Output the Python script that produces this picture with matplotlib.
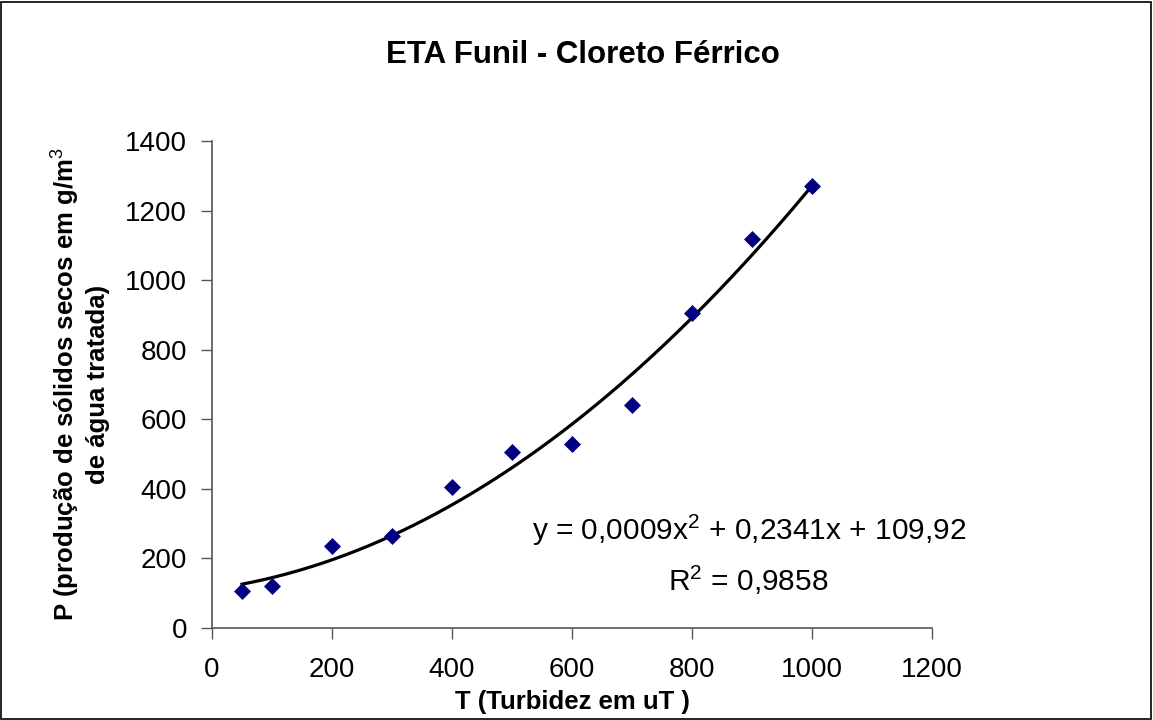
import numpy as np
import matplotlib
matplotlib.use("Agg")
import matplotlib.pyplot as plt
from matplotlib.patches import Rectangle

turbidez = [50, 100, 200, 300, 400, 500, 600, 700, 800, 900, 1000]
producao = [105, 120, 237, 265, 405, 505, 528, 640, 905, 1118, 1270]
x_ticks = [0, 200, 400, 600, 800, 1000, 1200]
y_ticks = [0, 200, 400, 600, 800, 1000, 1200, 1400]

title = "ETA Funil - Cloreto Férrico"
xlabel = "T (Turbidez em uT )"
ylabel = "P (produção de sólidos secos em g/m$^3$\nde água tratada)"
eq_text = "y = 0,0009x$^2$ + 0,2341x + 109,92"
r2_text = "R$^2$ = 0,9858"

plt.rcParams['font.family'] = ['Liberation Sans', 'DejaVu Sans']
plt.rcParams['mathtext.fontset'] = 'custom'
plt.rcParams['mathtext.rm'] = 'Liberation Sans'
plt.rcParams['mathtext.bf'] = 'Liberation Sans:bold'

W, H = 1153, 720
fig = plt.figure(figsize=(W / 100, H / 100), dpi=100)
fig.patches.append(Rectangle((0.001, 0.001), 0.997, 0.996, transform=fig.transFigure,
                             fill=False, edgecolor='black', linewidth=1.2))
ax_l, ax_r, ax_t, ax_b = 212, 932, 141, 628
ax = fig.add_axes([ax_l / W, 1 - ax_b / H, (ax_r - ax_l) / W, (ax_b - ax_t) / H])

ax.scatter(turbidez, producao, marker='D', s=75, color='#000080', zorder=3, linewidths=0)
coef = np.polyfit(turbidez, producao, 2)
xs = np.linspace(min(turbidez), max(turbidez), 200)
ax.plot(xs, np.polyval(coef, xs), color='black', linewidth=2.3, zorder=2)

ax.set_xlim(0, 1200)
ax.set_ylim(0, 1400)
ax.set_xticks(x_ticks)
ax.set_yticks(y_ticks)
ax.tick_params(axis='both', labelsize=20, length=8, width=1, color='#555555', direction='out')
ax.tick_params(axis='x', pad=13)
ax.tick_params(axis='y', pad=10)
for s in ['top', 'right']:
    ax.spines[s].set_visible(False)
for s in ['left', 'bottom']:
    ax.spines[s].set_color('#555555')
    ax.spines[s].set_linewidth(1.2)

fig.text((ax_l + ax_r) / 2 / W, 1 - 702 / H, xlabel, ha='center', va='center',
         fontsize=18.5, fontweight='bold')
fig.text(79 / W, 1 - (ax_t + ax_b) / 2 / H, ylabel, ha='center', va='center',
         rotation=90, fontsize=18.5, fontweight='bold', linespacing=1.25,
         multialignment='center')
fig.text(583 / W, 1 - 55 / H, title, ha='center', va='center', fontsize=22.5, fontweight='bold')

# annotation placed in figure pixel coordinates
fig.text(749 / W, 1 - 530 / H, eq_text, ha='center', va='center', fontsize=21.5)
fig.text(748 / W, 1 - 580 / H, r2_text, ha='center', va='center', fontsize=21.5)

fig.savefig("out.png", dpi=100)
